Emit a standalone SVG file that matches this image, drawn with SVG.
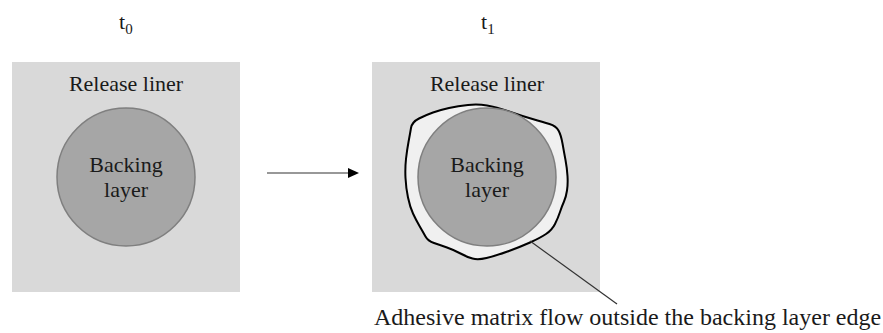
<svg xmlns="http://www.w3.org/2000/svg" width="883" height="333" viewBox="0 0 883 333">
<style>
text{font-family:"Liberation Serif","Times New Roman",serif;fill:#1a1a1a}
.lbl{font-size:22px;text-anchor:middle}
.liner{fill:#d9d9d9}
.back{fill:#a6a6a6;stroke:#7f7f7f;stroke-width:1.5}
.conn{stroke:#333;stroke-width:1.2;fill:none}
</style>
<rect width="883" height="333" fill="#fff"/>
<g id="t0-label"><text x="119" y="29" font-size="22">t<tspan font-size="15" dy="5">0</tspan></text></g>
<g id="t1-label"><text x="481" y="29" font-size="22">t<tspan font-size="15" dy="5">1</tspan></text></g>
<g id="liner-t0">
<rect class="liner" x="12" y="62" width="228" height="230"/>
<text class="lbl" x="126" y="91">Release liner</text>
</g>
<g id="backing-t0">
<circle class="back" cx="126" cy="177" r="69"/>
<text class="lbl" x="126" y="172">Backing</text>
<text class="lbl" x="126" y="197">layer</text>
</g>
<g id="liner-t1">
<rect class="liner" x="372" y="62" width="228" height="230"/>
<text class="lbl" x="487" y="91">Release liner</text>
</g>
<g id="adhesive-flow">
<path d="M411,128 Q412,122 419,118.5 Q426,115 433,112.5 Q440,110 449,108 Q458,106 468,105 Q478,104 487,105.5 Q496,107 509,111.5 Q522,116 532.5,119 Q543,122 549.5,124 Q556,126 558.5,130.5 Q561,135 562.5,143.5 Q564,152 565.5,160 Q567,168 567.5,176 Q568,184 567,190.5 Q566,197 564,201.5 Q562,206 560,212 Q558,218 555,224 Q552,230 546,234 Q540,238 530,242.5 Q520,247 507.5,251.5 Q495,256 486.5,258 Q478,260 472.5,258.5 Q467,257 460.5,253.5 Q454,250 447,247.5 Q440,245 434,243 Q428,241 425.5,236.5 Q423,232 419.5,226 Q416,220 413,213.5 Q410,207 408,197.5 Q406,188 405.5,178 Q405,168 406,159 Q407,150 408.5,142 Q410,134 411,128 Z" fill="#f0f0f0" stroke="#000" stroke-width="2"/>
</g>
<g id="backing-t1">
<circle class="back" cx="487" cy="177" r="69"/>
<text class="lbl" x="487" y="172">Backing</text>
<text class="lbl" x="487" y="197">layer</text>
</g>
<g id="callout"><text x="374" y="325" font-size="24">Adhesive matrix flow outside the backing layer edge</text></g>
<g id="connectors">
<line class="conn" x1="267" y1="173" x2="350" y2="173"/>
<polygon points="348,168 359,173 348,178" fill="#000"/>
<line class="conn" x1="530" y1="241" x2="617" y2="304" stroke-width="1"/>
</g>
</svg>
